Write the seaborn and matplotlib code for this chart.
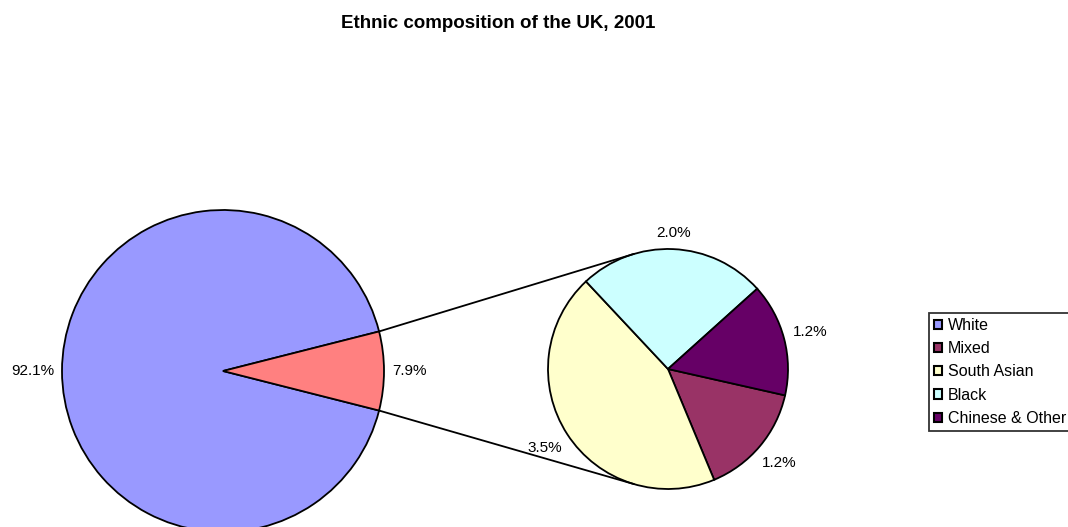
import numpy as np
import seaborn as sns
import matplotlib.pyplot as plt

# === Dados ===
main_labels = ['White', 'Other']
main_vals = [92.1, 7.9]
main_colors = ['#9999FF', '#FF8080']

sub_labels = ['Mixed', 'South Asian', 'Black', 'Chinese & Other']
sub_vals = [1.2, 3.5, 2.0, 1.2]
sub_colors = ['#993366', '#FFFFCC', '#CCFFFF', '#660066']

# === Estilo ===
sns.set_style('white')
plt.rcParams['font.family'] = ['Liberation Sans', 'DejaVu Sans']
plt.rcParams['text.color'] = 'black'

W, H = 1068, 527
fig = plt.figure(figsize=(W / 100, H / 100), dpi=100)
ax = fig.add_axes([0, 0, 1, 1])
ax.set_xlim(0, W)
ax.set_ylim(0, H)

wp = dict(edgecolor='black', linewidth=1.3)
renderer = fig.canvas.get_renderer()


def rotulos(wedges, vals, centro, raio, gap=8):
    # rotulo fora da fatia, com distancia fixa da borda ate o texto (estilo Excel)
    for w, v in zip(wedges, vals):
        ang = np.deg2rad((w.theta1 + w.theta2) / 2)
        t = ax.text(0, 0, f'{v:.1f}%', ha='center', va='center', fontsize=11)
        bb = t.get_window_extent(renderer)
        d = raio + gap + bb.width / 2 * abs(np.cos(ang)) + bb.height / 2 * abs(np.sin(ang))
        t.set_position((centro[0] + d * np.cos(ang), centro[1] + d * np.sin(ang)))


# pizza principal (fatia "Other" centrada em 0 graus)
c1, r1 = (223, H - 371), 161
w1 = ax.pie(main_vals, colors=main_colors, center=c1, radius=r1,
            startangle=main_vals[1] / 100 * 360 / 2, counterclock=True,
            wedgeprops=wp)[0]

# pizza secundaria
c2, r2 = (668, H - 369), 120
w2 = ax.pie(sub_vals, colors=sub_colors, center=c2, radius=r2,
            startangle=-12.7, counterclock=False, wedgeprops=wp)[0]

ax.set_xlim(0, W)
ax.set_ylim(0, H)
ax.set_aspect('equal')
ax.axis('off')

rotulos(w1, main_vals, c1, r1)
rotulos(w2, sub_vals, c2, r2)

# linhas de ligacao
other = w1[1]
for th_main, th_sub in [(other.theta2, 106.5), (other.theta1, -106.5)]:
    a, b = np.deg2rad(th_main), np.deg2rad(th_sub)
    ax.plot([c1[0] + r1 * np.cos(a), c2[0] + r2 * np.cos(b)],
            [c1[1] + r1 * np.sin(a), c2[1] + r2 * np.sin(b)],
            color='black', linewidth=1.3)

# legenda
leg = fig.legend([w1[0]] + list(w2), ['White'] + sub_labels,
                 loc='upper left', bbox_to_anchor=(929 / W, 1 - 313 / H),
                 borderaxespad=0, fontsize=11.5, frameon=True, fancybox=False,
                 handlelength=0.5, handleheight=0.5, handletextpad=0.4,
                 labelspacing=0.52, borderpad=0.3)
leg.get_frame().set_edgecolor('black')
leg.get_frame().set_linewidth(1.3)
for h in leg.legend_handles:
    h.set_linewidth(1.5)

fig.text(498.5 / W, 1 - 23.5 / H, 'Ethnic composition of the UK, 2001',
         ha='center', va='center', fontsize=13.5, fontweight='bold')

plt.savefig('out.png', dpi=100)
